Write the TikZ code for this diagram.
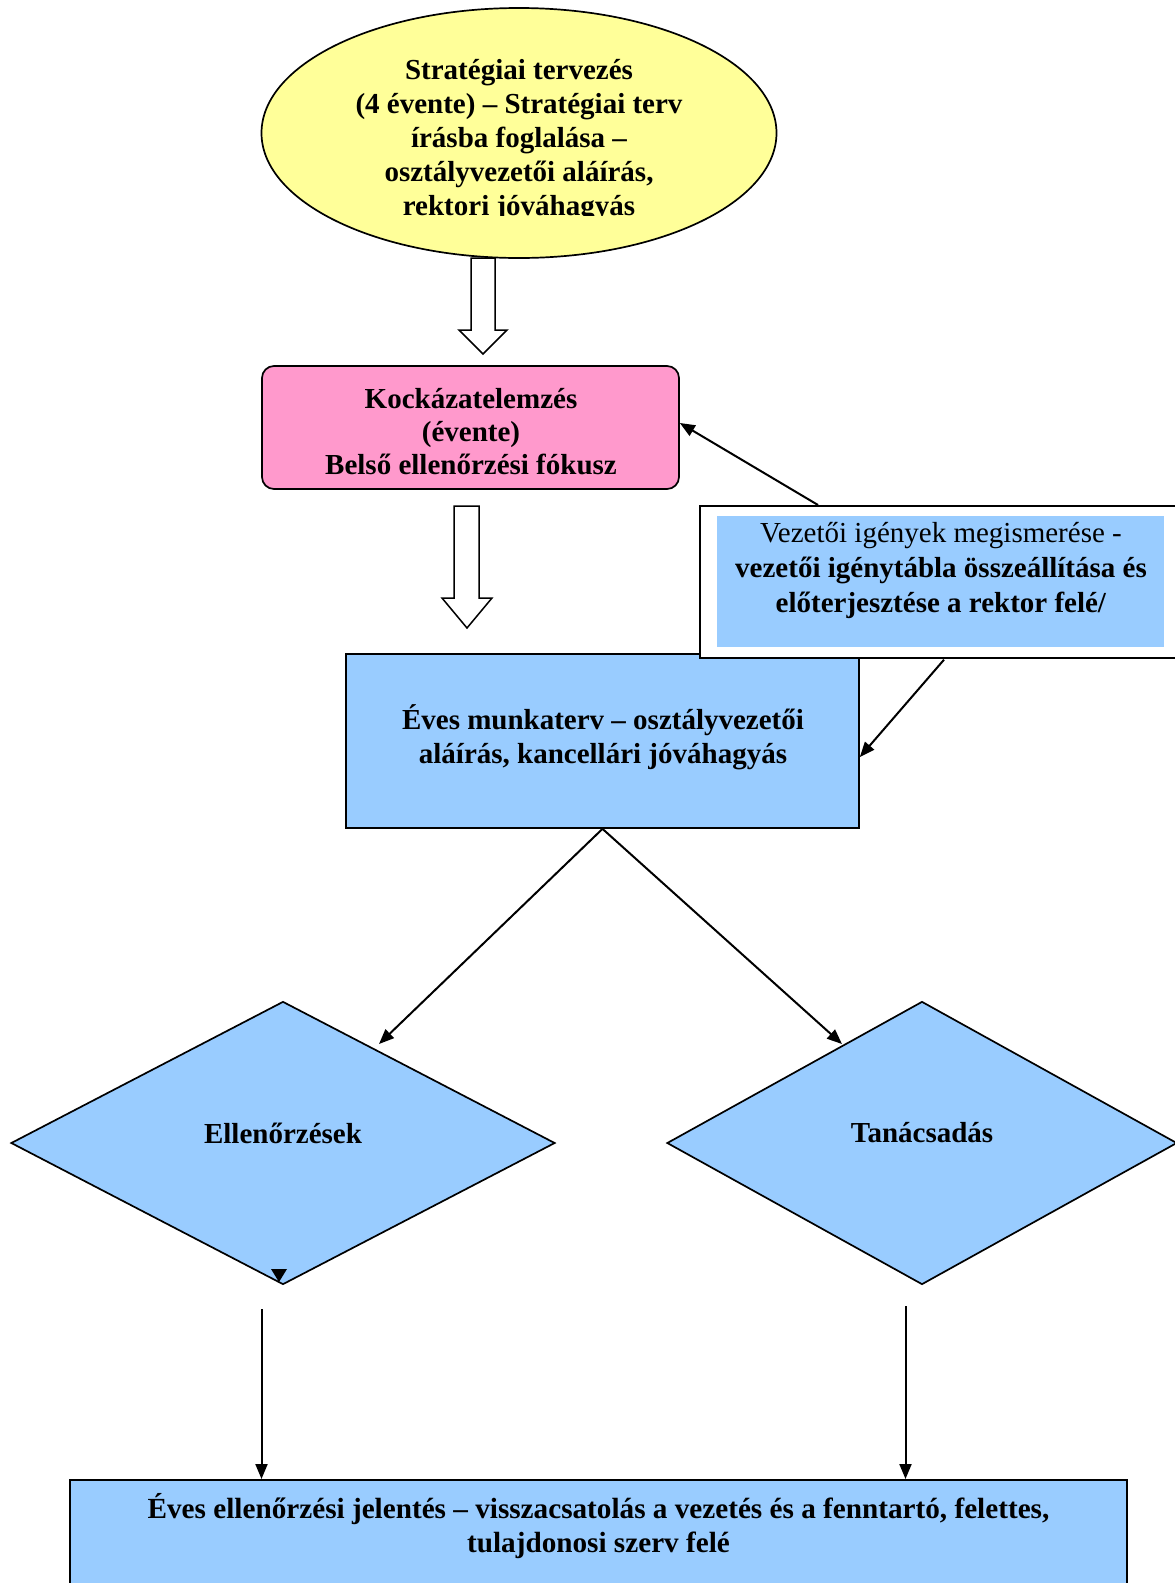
\documentclass[tikz,border=0pt]{standalone}
\usepackage{fontspec}
\setmainfont{Liberation Serif}
\usetikzlibrary{shapes.geometric,arrows.meta,calc}
\definecolor{yel}{HTML}{FFFF99}
\definecolor{pnk}{HTML}{FF99CC}
\definecolor{lblue}{HTML}{99CCFF}
\begin{document}
\begin{tikzpicture}[x=1pt,y=-1pt,
  bord/.style={draw=black,line width=1.7pt},
  txt/.style={align=center,font=\fontsize{29}{33.5}\selectfont\bfseries,inner sep=0pt},
  conn/.style={line width=2pt,-{Triangle[length=15pt,width=12pt]}},
  hollow/.style={draw=black,fill=white,line width=1.5pt}]
\useasboundingbox (0,0) rectangle (1175,1583);
\clip (0,0) rectangle (1175,1583);
\fill[white] (0,0) rectangle (1175,1583);

% top ellipse
\node[ellipse,bord,fill=yel,minimum width=515,minimum height=250,inner sep=0pt] (strat) at (519,133) {};
\begin{scope}
\clip (260,0) rectangle (780,215);
\node[txt,font=\fontsize{29}{34}\selectfont\bfseries] (strattxt) at (519,140.5) {Stratégiai tervezés\\(4 évente) – Stratégiai terv\\írásba foglalása –\\osztályvezetői aláírás,\\rektori jóváhagyás};
\end{scope}

% hollow arrow 1
\draw[hollow] (471,258) -- (495,258) -- (495,330) -- (507,330) -- (483,354) -- (459,330) -- (471,330) -- cycle;

% pink box
\node[rectangle,rounded corners=12pt,bord,fill=pnk,minimum width=417,minimum height=123,inner sep=0pt] (kock) at (470.5,427.5) {};
\node[txt,font=\fontsize{29}{33}\selectfont\bfseries] (kocktxt) at (471,432) {Kockázatelemzés\\(évente)\\Belső ellenőrzési fókusz};

% hollow arrow 2
\draw[hollow] (454,506) -- (479,506) -- (479,598) -- (492,598) -- (467,628) -- (442,598) -- (454,598) -- cycle;

% eves munkaterv
\node[rectangle,bord,fill=lblue,minimum width=513,minimum height=174,inner sep=0pt] (eves) at (602.5,741) {};
\node[txt,font=\fontsize{29}{34}\selectfont\bfseries] (evestxt) at (603,737) {Éves munkaterv – osztályvezetői\\aláírás, kancellári jóváhagyás};

% vezetoi box
\node[rectangle,bord,fill=white,minimum width=490,minimum height=152,inner sep=0pt,anchor=north west] (vez) at (699,505) {};
\fill[lblue] (717,516) rectangle (1164,647);
\node[txt,font=\fontsize{29}{35}\selectfont] (veztxt) at (941,570.5) {Vezetői igények megismerése -\\\textbf{vezetői igénytábla összeállítása és}\\\textbf{előterjesztése a rektor felé/}};

% diamonds
\node[diamond,bord,fill=lblue,minimum width=544,minimum height=283,inner sep=0pt,aspect=1.92] (ell) at (283,1143) {};
\node[txt] (elltxt) at (283,1133) {Ellenőrzések};
\node[diamond,bord,fill=lblue,minimum width=510,minimum height=283,inner sep=0pt,aspect=1.8] (tan) at (922,1143) {};
\node[txt] (tantxt) at (922,1133) {Tanácsadás};
\fill (271,1269) -- (287,1269) -- (279,1282) -- cycle;

% bottom box
\node[rectangle,bord,fill=lblue,minimum width=1057,minimum height=140,inner sep=0pt,anchor=north] (jel) at (598.5,1479) {};
\node[txt,font=\fontsize{29.2}{34}\selectfont\bfseries] (jeltxt) at (598.5,1526.5) {Éves ellenőrzési jelentés – visszacsatolás a vezetés és a fenntartó, felettes,\\tulajdonosi szerv felé};

% connectors
\coordinate (vzA) at ($(vez.north west)+(119,0)$);
\coordinate (vzB) at ($(vez.south west)+(245,1)$);
\draw[conn] (vzA) -- ($(kock.east)+(0,-4.5)$);
\draw[conn] (vzB) -- ($(eves.east)+(0,16)$);
\coordinate (ellT) at (379,1044);
\coordinate (tanT) at (842,1044);
\draw[conn] (eves.south) -- (ellT);
\draw[conn] (eves.south) -- (tanT);
\coordinate (ellB) at (261.5,1309);
\coordinate (tanB) at (905.5,1306);
\draw[conn] (ellB) -- (ellB |- jel.north);
\draw[conn] (tanB) -- (tanB |- jel.north);
\end{tikzpicture}
\end{document}
